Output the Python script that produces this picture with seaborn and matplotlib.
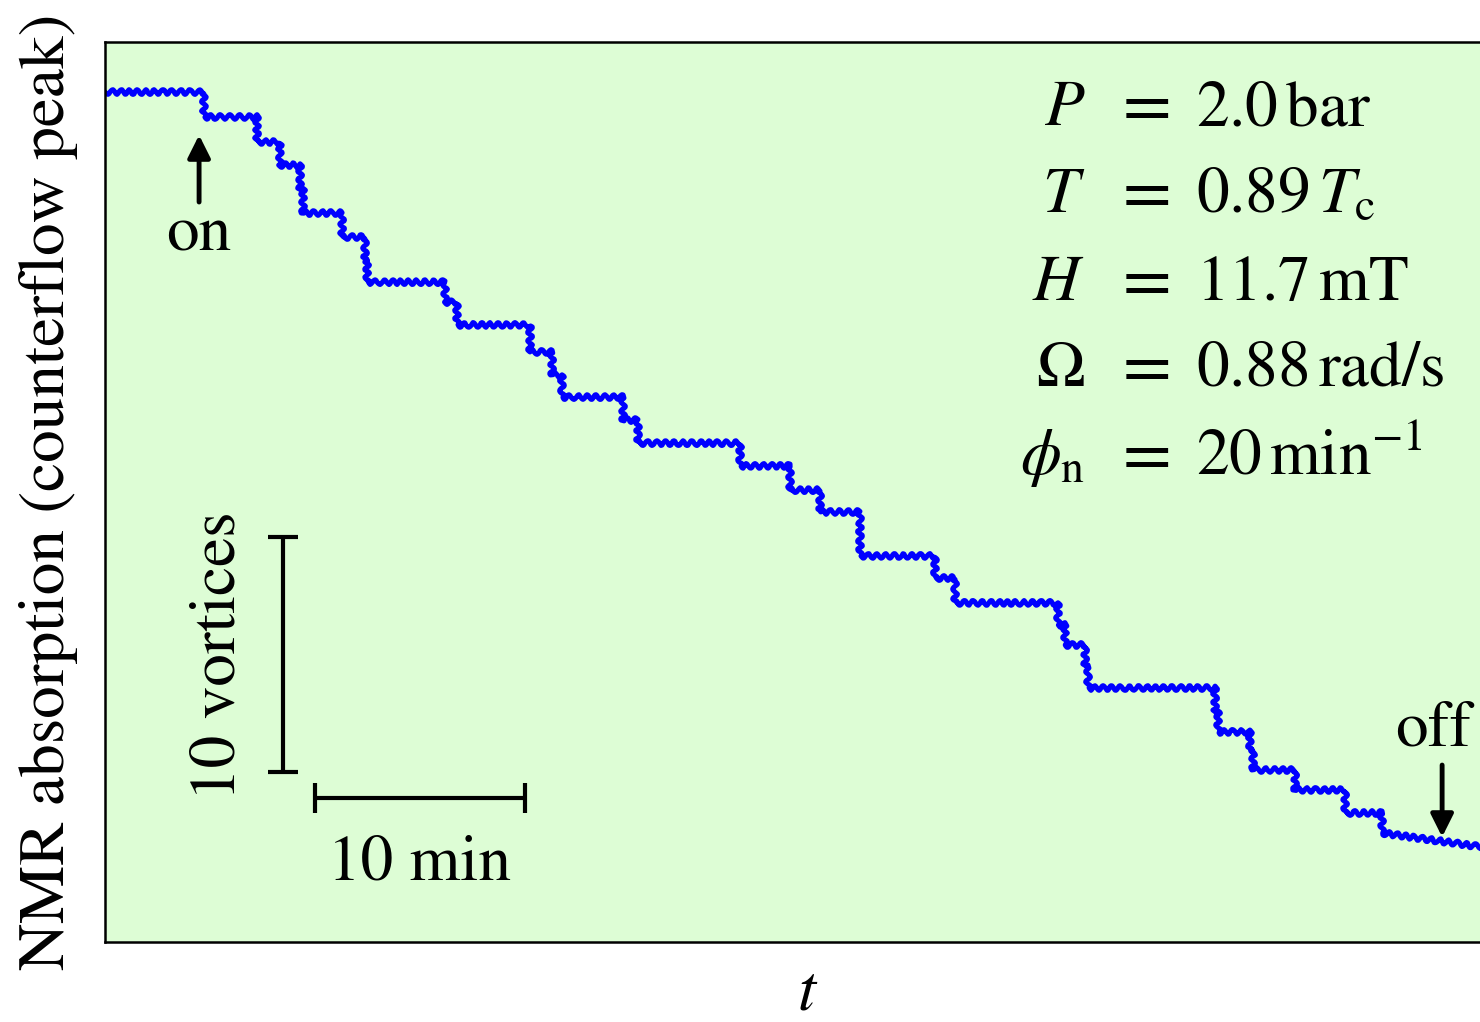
import numpy as np
import pandas as pd
import matplotlib
matplotlib.use('Agg')
import matplotlib.pyplot as plt
import seaborn as sns

# Step times (min) and signal level after each step (vortex units, counted downward)
step_times = [0.0, 4.71, 7.24, 8.33, 9.29, 9.43, 11.29, 12.38, 12.48, 16.19, 16.76,
              20.24, 21.29, 21.76, 24.67, 25.38, 30.24, 32.62, 34.05, 35.95, 39.52,
              40.48, 45.38, 45.71, 46.67, 46.81, 52.86, 53.00, 54.52, 54.67, 56.67,
              59.05, 60.81]
levels = [0.0, 1.06, 2.13, 3.11, 4.09, 5.15, 6.17, 7.15, 8.09, 8.94, 9.91,
          11.06, 12.04, 12.98, 13.96, 14.94, 15.91, 16.94, 17.87, 19.74, 20.68,
          21.74, 22.68, 23.53, 24.47, 25.36, 26.30, 27.23, 28.00, 28.85, 29.70,
          30.68, 31.53]
end_time = 65.6
end_level = 32.13

# scale bars: 10 vortices and 10 minutes
vortex_bar = 10
minute_bar = 10

# parameter block
param_symbols = [r'$P$', r'$T$', r'$H$', r'$\Omega$', r'$\phi_\mathrm{n}$']
param_values = [r'$2.0\,\mathrm{bar}$', r'$0.89\,T_\mathrm{c}$', r'$11.7\,\mathrm{mT}$',
                r'$0.88\,\mathrm{rad/s}$', r'$20\,\mathrm{min}^{-1}$']

W, H = 1480, 1022


def build_trace():
    # staircase from the step list
    t = np.repeat(step_times, 2)[1:]
    y = np.repeat(levels, 2)[:-1]
    t = np.append(t, end_time)
    y = np.append(y, end_level)
    return pd.DataFrame({'t': t, 'level': y})


def main():
    sns.set_style('white')
    plt.rcParams['font.family'] = ['STIXGeneral', 'DejaVu Serif']
    plt.rcParams['mathtext.fontset'] = 'stix'
    plt.rcParams['text.color'] = 'black'
    plt.rcParams['axes.labelcolor'] = 'black'

    fig = plt.figure(figsize=(W / 100, H / 100), dpi=100)
    ax = fig.add_axes([105 / W, 80 / H, (1511 - 105) / W, 900 / H])
    ax.set_facecolor('#ddfdd5')

    data = build_trace()
    sns.lineplot(data=data, x='t', y='level', sort=False, estimator=None,
                 color='#0000ff', lw=3.6, ax=ax)
    ax.lines[0].set_sketch_params(scale=2.4, length=9, randomness=1.5)

    ax.set_xlim(0, 66.95)
    ax.set_ylim(36.17, -2.13)
    ax.set_xticks([])
    ax.set_yticks([])
    for s in ax.spines.values():
        s.set_color('black')
        s.set_linewidth(1.8)

    fs = 47

    # scale bars
    ax.plot([8.48, 8.48], [18.94, 18.94 + vortex_bar], color='black', lw=3,
            marker='_', ms=22, mew=3)
    ax.plot([10.0, 10.0 + minute_bar], [30.04, 30.04], color='black', lw=3,
            marker='|', ms=22, mew=3)
    ax.text(5.45, 24.0, '10 vortices', rotation=90, ha='center', va='center', fontsize=fs)
    ax.text(15.0, 33.5, '10 min', ha='center', va='baseline', fontsize=fs)

    # on / off arrows
    arrow = dict(arrowstyle='-|>', lw=3.5, color='black', mutation_scale=34,
                 shrinkA=0, shrinkB=0)
    ax.annotate('', xy=(4.48, 1.83), xytext=(4.48, 4.68), arrowprops=arrow)
    ax.text(4.48, 6.73, 'on', ha='center', va='baseline', fontsize=fs)
    ax.annotate('', xy=(63.67, 31.70), xytext=(63.67, 28.64), arrowprops=arrow)
    ax.text(63.24, 27.79, 'off', ha='center', va='baseline', fontsize=fs)

    # parameter block
    baselines = [125, 212, 300, 386, 474]
    for sym, val, yb in zip(param_symbols, param_values, baselines):
        fy = 1 - yb / H
        fig.text(1085 / W, fy, sym, ha='right', va='baseline', fontsize=fs)
        fig.text(1141 / W, fy, r'$=$', ha='center', va='baseline', fontsize=fs + 4)
        fig.text(1196 / W, fy, val, ha='left', va='baseline', fontsize=fs)

    ax.set_ylabel('NMR absorption (counterflow peak)', fontsize=fs)
    ax.yaxis.set_label_coords(-(105 - 78) / 1406, 0.5)
    ax.set_xlabel(r'$t$', fontsize=fs, labelpad=16)

    fig.savefig('out.png', dpi=100)


if __name__ == "__main__":
    main()
